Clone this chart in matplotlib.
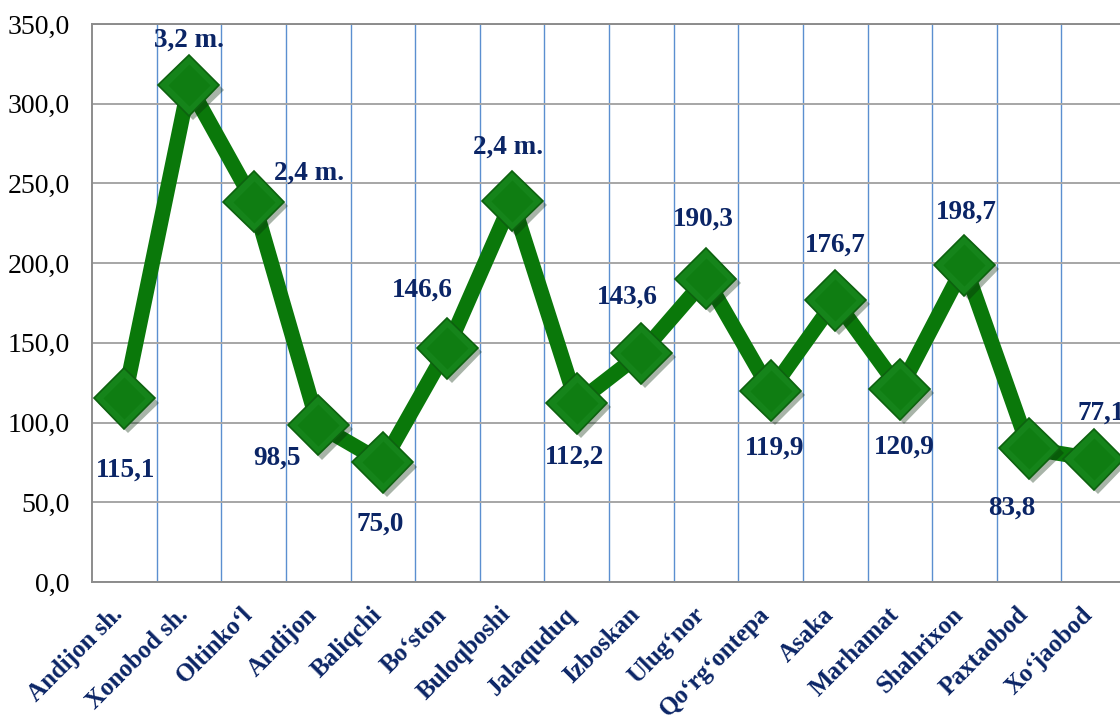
import matplotlib
matplotlib.use("Agg")
import matplotlib.pyplot as plt
import matplotlib.patheffects as pe
import matplotlib.transforms as mtransforms
import numpy as np

categories = ["Andijon sh.", "Xonobod sh.", "Oltinko\u02bbl", "Andijon", "Baliqchi",
              "Bo\u02bbston", "Buloqboshi", "Jalaquduq", "Izboskan", "Ulug\u02bbnor",
              "Qo\u02bbrg\u02bbontepa", "Asaka", "Marhamat", "Shahrixon", "Paxtaobod",
              "Xo\u02bbjaobod"]
values = [115.1, 311.5, 238.5, 98.5, 75.0, 146.6, 239.0, 112.2, 143.6, 190.3,
          119.9, 176.7, 120.9, 198.7, 83.8, 77.1]
value_labels = ["115,1", "3,2 m.", "2,4 m.", "98,5", "75,0", "146,6", "2,4 m.", "112,2",
                "143,6", "190,3", "119,9", "176,7", "120,9", "198,7", "83,8", "77,1"]
yticks = [0, 50, 100, 150, 200, 250, 300, 350]

# label offsets in pixels (dx, dy) from marker centre
label_offsets = [(1, -72), (0, 45), (55, 29), (-41, -33), (-3, -62), (-25, 58),
                 (-4, 54), (-2, -54), (-14, 56), (-3, 59), (4, -57), (0, 55),
                 (5, -58), (2, 53), (-17, -60), (7, 46)]

plt.rcParams['font.family'] = ['Liberation Serif', 'DejaVu Serif']
W, H = 1120, 722
fig = plt.figure(figsize=(W / 100, H / 100), dpi=100)
ax = fig.add_axes([92 / W, (H - 582) / H, 1034 / W, 558 / H])

x = np.arange(len(categories))
ax.set_xlim(-0.5, len(categories) - 0.5)
ax.set_ylim(0, 350)

ax.plot(x, values, color='#0a780a', lw=11, solid_joinstyle='miter', zorder=3)
ax.plot(x, values, linestyle='none', marker='D', markersize=31,
        markerfacecolor='#15841a', markeredgecolor='#0d620f', markeredgewidth=1.2,
        zorder=4,
        path_effects=[pe.SimplePatchShadow(offset=(3, -3), alpha=0.35), pe.Normal()])
ax.plot(x, values, linestyle='none', marker='D', markersize=21,
        markerfacecolor='#0f7d12', markeredgecolor='none', zorder=5)

navy = '#0b2566'
for xi, v, lab, (dx, dy) in zip(x, values, value_labels, label_offsets):
    ax.annotate(lab, (xi, v), xytext=(dx * 0.72, dy * 0.72), textcoords='offset points',
                ha='center', va='center', fontsize=19.5, fontweight='bold', color=navy,
                zorder=6, annotation_clip=False)

ax.set_yticks(yticks)
ax.set_yticklabels([f"{t:.1f}".replace('.', ',') for t in yticks], fontsize=20)
ax.set_xticks(x)
ax.set_xticklabels(categories, rotation=45, ha='right', va='top',
                   rotation_mode='anchor', fontsize=18, fontweight='bold', color=navy)
ax.tick_params(axis='x', length=0, pad=15)
ax.tick_params(axis='y', length=0, pad=16)
shift = mtransforms.ScaledTranslation(-13 / 100, 0, fig.dpi_scale_trans)
for lbl in ax.get_xticklabels():
    lbl.set_transform(lbl.get_transform() + shift)

ax.set_xticks(np.arange(len(categories) - 1) + 0.5, minor=True)
ax.tick_params(axis='x', which='minor', length=0)
ax.grid(True, axis='x', which='minor', color='#5b8fd0', lw=1.0, zorder=1)
ax.grid(True, axis='y', which='major', color='#a6a6a6', lw=1.4, zorder=1)
ax.set_axisbelow(True)
for s in ax.spines.values():
    s.set_color('#8c8c8c')
    s.set_linewidth(1.4)

fig.savefig('out.png', dpi=100)
